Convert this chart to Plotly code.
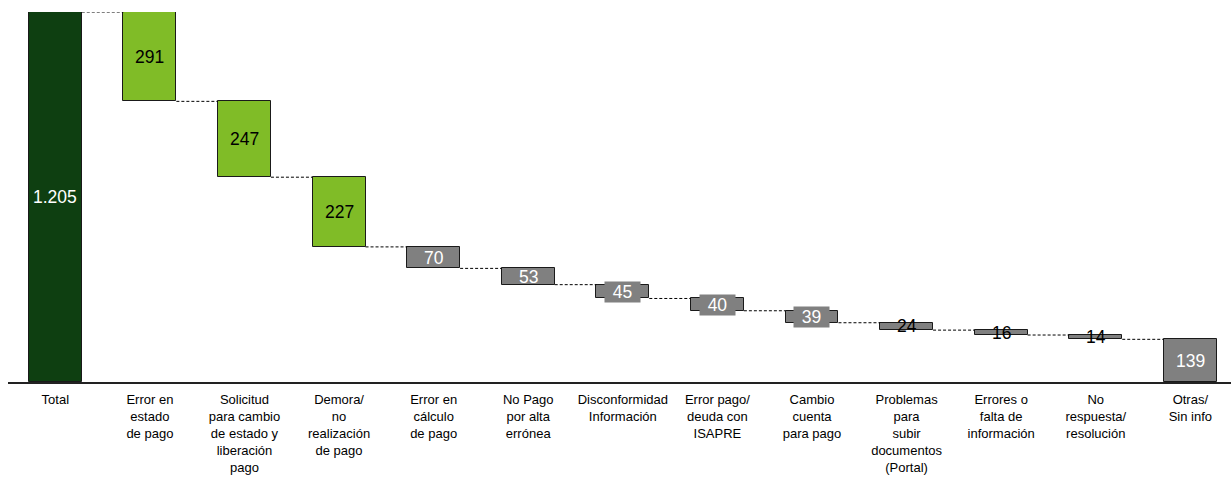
import plotly.graph_objects as go

# Waterfall data: starting total, the decreasing steps and the remainder
categories = [
    "Total",
    "Error en<br>estado<br>de pago",
    "Solicitud<br>para cambio<br>de estado y<br>liberación<br>pago",
    "Demora/<br>no<br>realización<br>de pago",
    "Error en<br>cálculo<br>de pago",
    "No Pago<br>por alta<br>errónea",
    "Disconformidad<br>Información",
    "Error pago/<br>deuda con<br>ISAPRE",
    "Cambio<br>cuenta<br>para pago",
    "Problemas<br>para<br>subir<br>documentos<br>(Portal)",
    "Errores o<br>falta de<br>información",
    "No<br>respuesta/<br>resolución",
    "Otras/<br>Sin info",
]
total = 1205
steps = [291, 247, 227, 70, 53, 45, 40, 39, 24, 16, 14]
remainder = 139
value_labels = ["1.205"] + [str(v) for v in steps] + [str(remainder)]

# Styling
FONT = "Liberation Sans, Arial, sans-serif"
DARK_GREEN = "#0e3f11"
GREEN = "#80bc27"
GREY = "#808080"
bar_colors = [DARK_GREEN] + [GREEN] * 3 + [GREY] * 8 + [GREY]
text_colors = ["white", "black", "black", "black",
               "white", "white", "white", "white", "white",
               "black", "black", "black", "white"]
text_bg = [None, None, None, None,
           None, None, GREY, GREY, GREY,
           None, None, None, None]
BAR_W = 0.56

# Bases and heights of the floating bars
heights = [total] + steps + [remainder]
bases = [0]
level = total
levels = [total]
for v in steps:
    level -= v
    bases.append(level)
    levels.append(level)
bases.append(0)

xs = list(range(len(categories)))

fig = go.Figure()
fig.add_trace(go.Bar(
    x=xs, y=heights, base=bases, width=BAR_W,
    marker=dict(color=bar_colors, line=dict(color="#1a1a1a", width=1)),
    hoverinfo="skip", showlegend=False,
))

# Dashed connectors between consecutive bars
for i, lv in enumerate(levels):
    fig.add_shape(type="line", xref="x", yref="y",
                  x0=i + BAR_W / 2, x1=i + 1 - BAR_W / 2, y0=lv, y1=lv,
                  line=dict(color="black", width=1, dash="3px,2px"))

# Value labels centred in each bar
for i, (b, h, t) in enumerate(zip(bases, heights, value_labels)):
    ann = dict(x=i, y=b + h / 2, xref="x", yref="y", text=t, showarrow=False,
               font=dict(family=FONT, size=17.5, color=text_colors[i]),
               borderpad=0)
    if text_bg[i]:
        ann["bgcolor"] = text_bg[i]
        ann["width"] = 35
    fig.add_annotation(**ann)

fig.update_layout(
    width=1231, height=478,
    margin=dict(l=8, r=0, t=12, b=96),
    paper_bgcolor="white", plot_bgcolor="white",
    bargap=0,
    font=dict(family=FONT, size=13, color="black"),
)
fig.update_xaxes(
    range=[-0.5, 12.43], tickvals=xs, ticktext=categories,
    showgrid=False, zeroline=False, ticks="",
    showline=True, linecolor="#222222", linewidth=1.5,
    tickfont=dict(size=13), ticklabelstandoff=5, automargin=False,
    fixedrange=True,
)
fig.update_yaxes(
    range=[0, total], visible=False, showgrid=False, zeroline=False,
    automargin=False, fixedrange=True,
)

fig.write_html("out.html")
